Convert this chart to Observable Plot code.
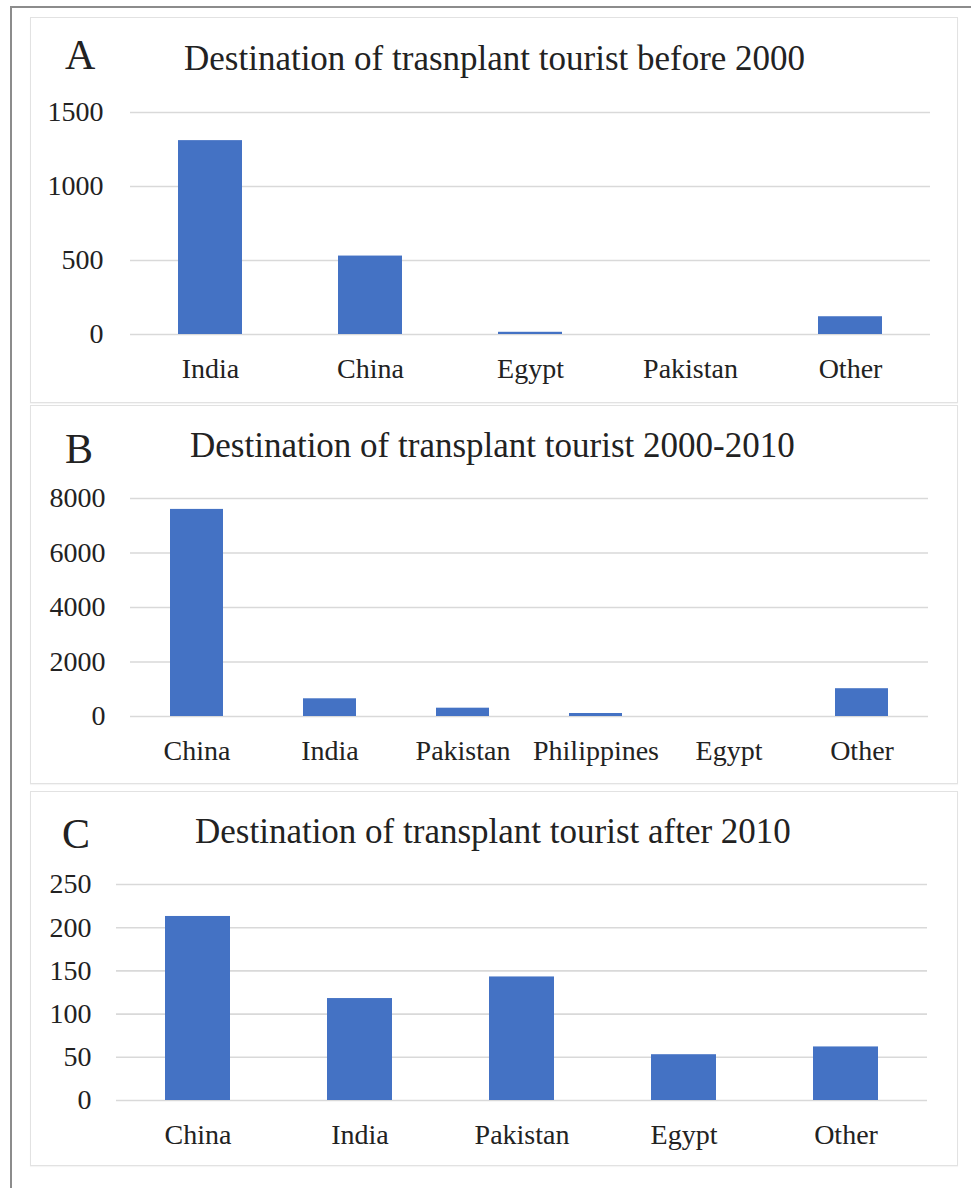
<!DOCTYPE html>
<html>
<head>
<meta charset="utf-8">
<script src="https://cdn.jsdelivr.net/npm/d3@7"></script>
<script src="https://cdn.jsdelivr.net/npm/@observablehq/plot@0.6"></script>
<style>
  html, body { margin: 0; padding: 0; background: #fff; }
  #page { position: relative; width: 971px; height: 1188px; overflow: hidden; font-family: "Liberation Serif", "Times New Roman", serif; color: #222; }
  #frame { position: absolute; left: 10px; top: 6px; width: 970px; height: 1190px; border-left: 2px solid #8c8c8c; border-top: 2px solid #8c8c8c; }
  .panel { position: absolute; left: 30px; width: 928px; box-sizing: border-box; border: 1px solid #e2e2e2; background: #fff; box-shadow: 0 1px 1px rgba(0,0,0,0.04); }
  .panel svg { position: absolute; left: 0; top: 0; }
  .lbl { position: absolute; line-height: 1; white-space: nowrap; font-size: 42px; }
  .ttl { position: absolute; line-height: 1; white-space: nowrap; font-size: 35px; }
</style>
</head>
<body>
<div id="page">
  <div id="frame"></div>
</div>
<script>
// Panel A: before 2000
const categoriesA = ["India", "China", "Egypt", "Pakistan", "Other"];
const valuesA = [1310, 530, 15, 0, 120];
const ticksA = [0, 500, 1000, 1500];
const titleA = "Destination of trasnplant tourist before 2000";

// Panel B: 2000-2010
const categoriesB = ["China", "India", "Pakistan", "Philippines", "Egypt", "Other"];
const valuesB = [7600, 650, 305, 110, 0, 1020];
const ticksB = [0, 2000, 4000, 6000, 8000];
const titleB = "Destination of transplant tourist 2000-2010";

// Panel C: after 2010
const categoriesC = ["China", "India", "Pakistan", "Egypt", "Other"];
const valuesC = [213, 118, 143, 53, 62];
const ticksC = [0, 50, 100, 150, 200, 250];
const titleC = "Destination of transplant tourist after 2010";

const panels = [
  {letter: "A", title: titleA, cats: categoriesA, vals: valuesA, ticks: ticksA,
   top: 17, height: 386, ml: 99, mr: 27, mt: 94, mb: 68, yPad: 27,
   letterPos: [34, 16], titlePos: [153, 23]},
  {letter: "B", title: titleB, cats: categoriesB, vals: valuesB, ticks: ticksB,
   top: 405, height: 379, ml: 99, mr: 29, mt: 92, mb: 67, yPad: 25,
   letterPos: [34, 22], titlePos: [159, 22]},
  {letter: "C", title: titleC, cats: categoriesC, vals: valuesC, ticks: ticksC,
   top: 791, height: 375, ml: 85, mr: 30, mt: 92, mb: 65, yPad: 25,
   letterPos: [31, 21], titlePos: [164, 22]}
];

const page = document.getElementById("page");
for (const p of panels) {
  const div = document.createElement("div");
  div.className = "panel";
  div.style.top = p.top + "px";
  div.style.height = p.height + "px";
  page.appendChild(div);

  const data = p.cats.map((c, i) => ({cat: c, val: p.vals[i]}));
  const innerH = p.height - 2;
  const chart = Plot.plot({
    width: 926,
    height: innerH,
    marginLeft: p.ml,
    marginRight: p.mr,
    marginTop: p.mt,
    marginBottom: p.mb,
    style: {fontFamily: "'Liberation Serif', 'Times New Roman', serif", fontSize: "28px", color: "#222", background: "transparent"},
    x: {domain: p.cats, paddingInner: 0.6, paddingOuter: 0.3, axis: null},
    y: {domain: [0, d3.max(p.ticks)], axis: null},
    marks: [
      Plot.gridY(p.ticks, {stroke: "#d9d9d9", strokeOpacity: 1, strokeWidth: 1.6}),
      Plot.barY(data, {x: "cat", y: "val", fill: "#4472C4"}),
      Plot.axisX({tickSize: 0, tickPadding: 24, fill: "#222", label: null}),
      Plot.axisY(p.ticks, {tickSize: 0, tickPadding: p.yPad, fill: "#222", label: null, tickFormat: d => String(d)})
    ]
  });
  div.appendChild(chart);

  const l = document.createElement("div");
  l.className = "lbl";
  l.textContent = p.letter;
  l.style.left = p.letterPos[0] + "px";
  l.style.top = p.letterPos[1] + "px";
  div.appendChild(l);

  const t = document.createElement("div");
  t.className = "ttl";
  t.textContent = p.title;
  t.style.left = p.titlePos[0] + "px";
  t.style.top = p.titlePos[1] + "px";
  div.appendChild(t);
}
</script>
</body>
</html>
